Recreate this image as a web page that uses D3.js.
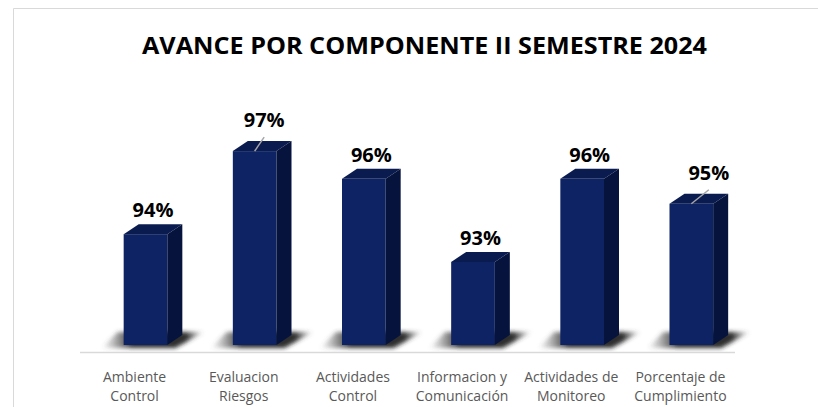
<!DOCTYPE html>
<html>
<head>
<meta charset="utf-8">
<script src="https://cdn.jsdelivr.net/npm/d3@7"></script>
<style>
  body { margin: 0; background: #fff; }
  svg { display: block; font-family: "Open Sans", sans-serif; }
</style>
</head>
<body>
<div id="chart"></div>
<script>
const title = "AVANCE POR COMPONENTE II SEMESTRE 2024";
const categories = [
    ["Ambiente", "Control"],
    ["Evaluacion", "Riesgos"],
    ["Actividades", "Control"],
    ["Informacion y", "Comunicación"],
    ["Actividades de", "Monitoreo"],
    ["Porcentaje de", "Cumplimiento"]
];
const values = [0.94, 0.97, 0.96, 0.93, 0.96, 0.951];
// labels that were dragged up in the original, with a leader line
const labelNudge = [null, [2, -7], null, null, null, [10, -7]];

const width = 818, height = 407;
const depthX = 15, depthY = -10;
const colors = { front: "#0e2363", top: "#0a1b50", side: "#06133d" };

const svg = d3.select("#chart").append("svg")
    .attr("width", width)
    .attr("height", height);

const defs = svg.append("defs");
defs.append("filter").attr("id", "blur")
    .attr("x", "-50%").attr("y", "-50%").attr("width", "200%").attr("height", "200%")
    .append("feGaussianBlur").attr("stdDeviation", 2);

const grad = defs.append("linearGradient").attr("id", "shadowGrad")
    .attr("x1", "0").attr("x2", "1").attr("y1", "0").attr("y2", "0");
grad.append("stop").attr("offset", "0%").attr("stop-color", "#555").attr("stop-opacity", 0);
grad.append("stop").attr("offset", "30%").attr("stop-color", "#222").attr("stop-opacity", 0.95);
grad.append("stop").attr("offset", "82%").attr("stop-color", "#222").attr("stop-opacity", 0.95);
grad.append("stop").attr("offset", "100%").attr("stop-color", "#555").attr("stop-opacity", 0);

// chart area border (only top/left visible in the crop)
svg.append("path")
    .attr("d", `M13.5,${height} V8.5 H${width}`)
    .attr("fill", "none")
    .attr("stroke", "#d9d9d9")
    .attr("stroke-width", 1);

svg.append("text")
    .attr("x", 424.5)
    .attr("y", 54)
    .attr("text-anchor", "middle")
    .attr("font-weight", "bold")
    .attr("font-size", 23)
    .attr("textLength", 565)
    .attr("lengthAdjust", "spacingAndGlyphs")
    .attr("fill", "#000")
    .text(title);

const x = d3.scaleBand()
    .domain(d3.range(categories.length))
    .range([80, 735]);

const y = d3.scaleLinear()
    .domain([0.9, 1.0])
    .range([345, 68]);

const bw = x.bandwidth();
const barW = bw * 0.4;
const base = y(0.9);

const bars = svg.append("g").selectAll("g")
    .data(values)
    .join("g");

// shadow at the foot of each bar
bars.append("path")
    .attr("d", (d, i) => {
        const x0 = x(i) + bw * 0.4;
        return `M${x0 - 22},${base + 3} L${x0 - 6},${base - 13} L${x0 + barW + depthX + 22},${base - 13} L${x0 + barW + 8},${base + 3} Z`;
    })
    .attr("fill", "url(#shadowGrad)")
    .attr("filter", "url(#blur)");

bars.append("rect")
    .attr("x", (d, i) => x(i) + bw * 0.4)
    .attr("y", d => y(d))
    .attr("width", barW)
    .attr("height", d => base - y(d))
    .attr("fill", colors.front);

bars.append("path")
    .attr("d", (d, i) => {
        const x0 = x(i) + bw * 0.4, y0 = y(d);
        return `M${x0},${y0} l${depthX},${depthY} h${barW} l${-depthX},${-depthY} Z`;
    })
    .attr("fill", colors.top);

bars.append("path")
    .attr("d", (d, i) => {
        const x1 = x(i) + bw * 0.4 + barW, y0 = y(d);
        return `M${x1},${y0} l${depthX},${depthY} V${base + depthY} l${-depthX},${-depthY} Z`;
    })
    .attr("fill", colors.side);

// leader lines for the moved labels
const labelX = i => x(i) + bw * 0.4 + (barW + depthX) / 2 + (labelNudge[i] ? labelNudge[i][0] : 0);
const labelY = (d, i) => y(d) - 17 + (labelNudge[i] ? labelNudge[i][1] : 0);

bars.each(function (d, i) {
    if (!labelNudge[i]) return;
    d3.select(this).append("line")
        .attr("x1", x(i) + bw * 0.4 + barW / 2)
        .attr("y1", y(d))
        .attr("x2", labelX(i))
        .attr("y2", labelY(d, i) + 10)
        .attr("stroke", "#a6a6a6")
        .attr("stroke-width", 1.5);
});

bars.append("text")
    .attr("x", (d, i) => labelX(i))
    .attr("y", (d, i) => labelY(d, i))
    .attr("text-anchor", "middle")
    .attr("font-weight", "bold")
    .attr("font-size", 20)
    .attr("fill", "#000")
    .text(d => d3.format(".0%")(d));

// category axis
svg.append("line")
    .attr("x1", 80).attr("x2", 735)
    .attr("y1", 352.5).attr("y2", 352.5)
    .attr("stroke", "#d9d9d9")
    .attr("stroke-width", 1.5);

const ticks = svg.append("g").selectAll("text")
    .data(categories)
    .join("text")
    .attr("x", (d, i) => x(i) + bw / 2)
    .attr("text-anchor", "middle")
    .attr("font-size", 14)
    .attr("fill", "#595959");

ticks.selectAll("tspan")
    .data(d => d)
    .join("tspan")
    .attr("x", function () { return this.parentNode.getAttribute("x"); })
    .attr("y", (d, j) => 382 + j * 19)
    .text(d => d);
</script>
</body>
</html>
